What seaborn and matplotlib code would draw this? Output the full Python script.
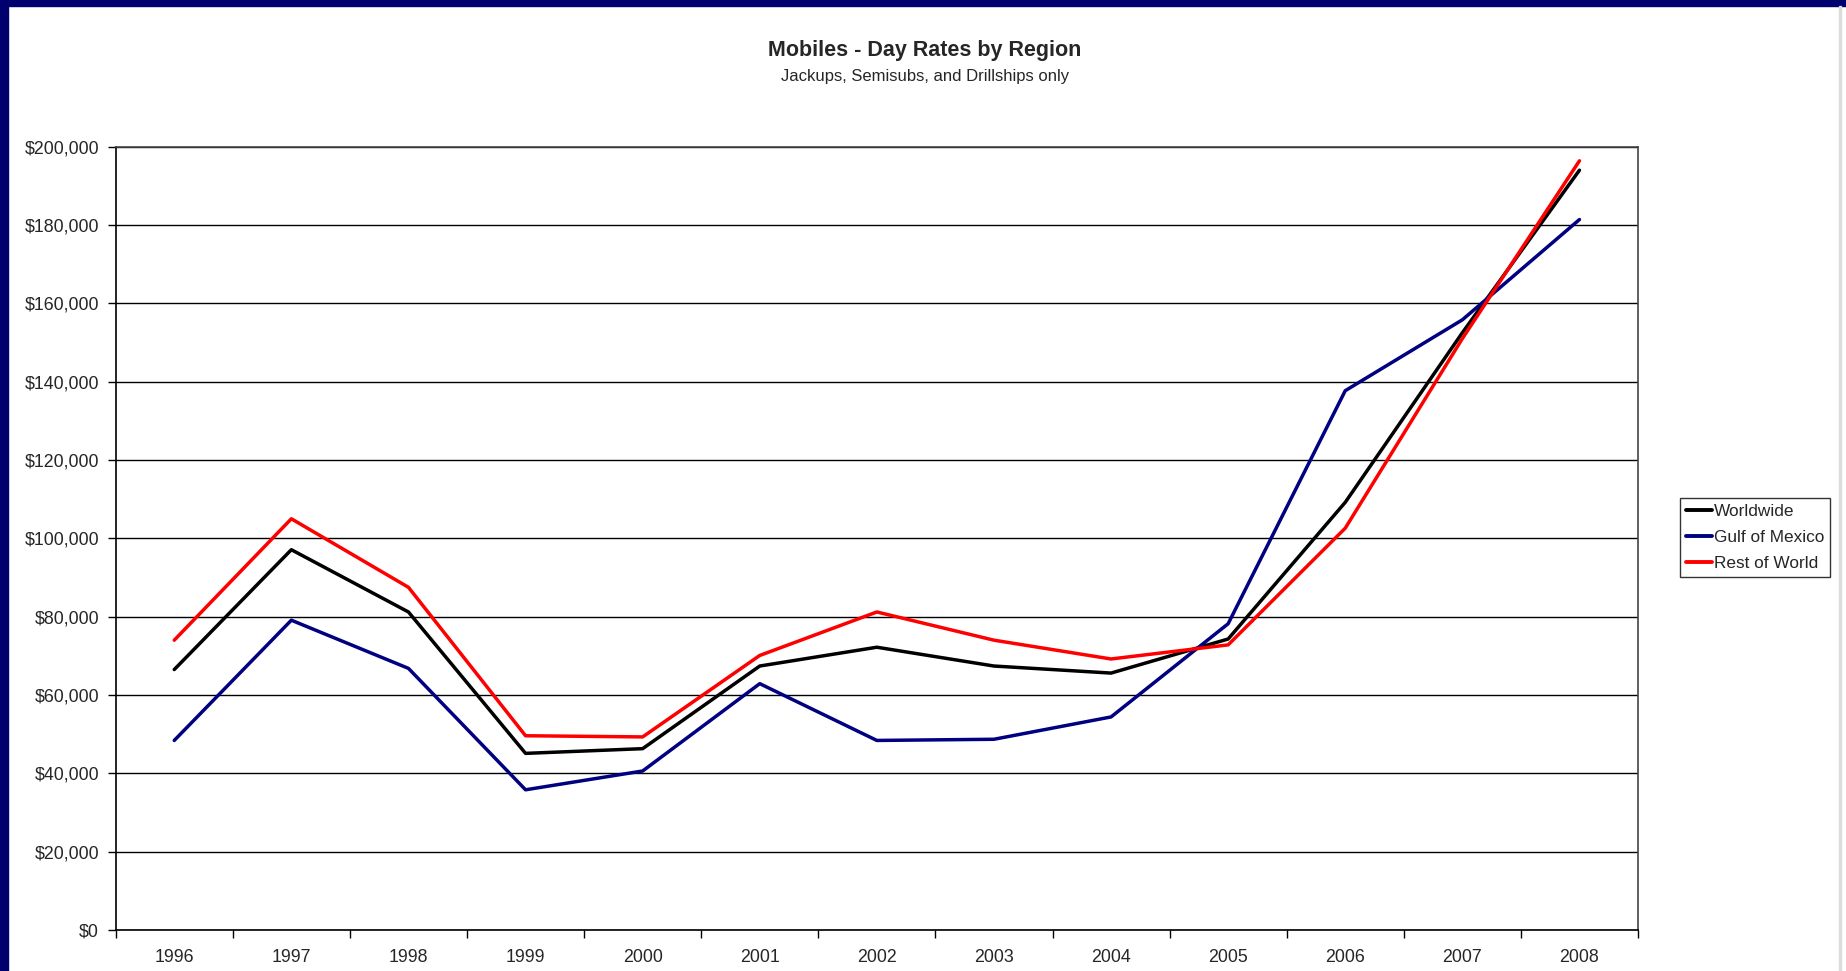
import pandas as pd
import matplotlib.pyplot as plt
import matplotlib.patches as mpatches
from matplotlib.ticker import FuncFormatter, FixedLocator
import seaborn as sns

# Data
years = ['1996', '1997', '1998', '1999', '2000', '2001', '2002',
         '2003', '2004', '2005', '2006', '2007', '2008']
worldwide = [66500, 97100, 81200, 45100, 46300, 67400, 72200,
             67400, 65600, 74300, 109200, 152500, 194000]
gulf_of_mexico = [48400, 79100, 66800, 35800, 40600, 62900, 48400,
                  48700, 54400, 78200, 137700, 155800, 181400]
rest_of_world = [74000, 105000, 87500, 49600, 49300, 70100, 81200,
                 74000, 69200, 72800, 102600, 151000, 196400]

series_names = ['Worldwide', 'Gulf of Mexico', 'Rest of World']
series_colors = ['#000000', '#000080', '#ff0000']

df = pd.DataFrame({'Year': years * 3,
                   'Rate': worldwide + gulf_of_mexico + rest_of_world,
                   'Region': [n for n in series_names for _ in years]})

sns.set_style('white')
plt.rcParams['font.family'] = ['Liberation Sans', 'DejaVu Sans']

fig = plt.figure(figsize=(18.46, 9.71), dpi=100)
ax = fig.add_axes([115.7 / 1846, 1 - 930 / 971, (1638 - 115.7) / 1846, (930 - 146.7) / 971])

sns.lineplot(data=df, x='Year', y='Rate', hue='Region', palette=series_colors,
             hue_order=series_names, linewidth=2.5, ax=ax, legend=False)

ax.set_xlim(-0.5, len(years) - 0.5)
ax.set_ylim(0, 200000)
ax.set_yticks(range(0, 200001, 20000))
ax.yaxis.set_major_formatter(FuncFormatter(lambda v, p: f'${v:,.0f}'))
ax.grid(axis='y', color='black', linewidth=1)
ax.set_axisbelow(True)

# ticks between categories, labels centred on categories
ax.xaxis.set_major_locator(FixedLocator([i - 0.5 for i in range(len(years) + 1)]))
ax.xaxis.set_major_formatter(FuncFormatter(lambda v, p: ''))
ax.xaxis.set_minor_locator(FixedLocator(range(len(years))))
ax.set_xticks(range(len(years)), years, minor=True)
ax.tick_params(axis='x', which='major', direction='out', length=6, width=1, color='black', bottom=True)
ax.tick_params(axis='x', which='minor', length=0, pad=14, labelsize=12.8)
ax.tick_params(axis='y', direction='out', length=6, width=1, color='black', left=True, pad=6, labelsize=12.8)

for s in ax.spines.values():
    s.set_color('#444444')
    s.set_linewidth(1.2)
ax.spines['left'].set_color('black')
ax.spines['bottom'].set_color('black')
ax.set_xlabel('')
ax.set_ylabel('')

fig.text(925 / 1846, 1 - 50 / 971, 'Mobiles - Day Rates by Region', ha='center', va='center',
         fontsize=15.5, fontweight='bold')
fig.text(925 / 1846, 1 - 76 / 971, 'Jackups, Semisubs, and Drillships only', ha='center', va='center',
         fontsize=12)

handles = [plt.Line2D([], [], color=c, linewidth=2.8) for c in series_colors]
leg = fig.legend(handles, series_names, loc='upper left',
                 bbox_to_anchor=(1680 / 1846, 1 - 498 / 971), fontsize=12.4,
                 frameon=True, fancybox=False, handlelength=1.5, handletextpad=0.1,
                 borderpad=0.35, labelspacing=0.62, borderaxespad=0)
leg.get_frame().set_edgecolor('black')
leg.get_frame().set_linewidth(1)

# slide border
fig.patches.append(mpatches.Rectangle((0, 0), 8 / 1846, 1, transform=fig.transFigure,
                                      color='#00006e', zorder=10))
fig.patches.append(mpatches.Rectangle((0, 1 - 6 / 971), 1, 6 / 971, transform=fig.transFigure,
                                      color='#00006e', zorder=10))
fig.patches.append(mpatches.Rectangle((1839 / 1846, 0), 2 / 1846, 1 - 6 / 971, transform=fig.transFigure,
                                      color='#dcdcd8', zorder=10))

fig.savefig('out.png', dpi=100)
plt.close()
